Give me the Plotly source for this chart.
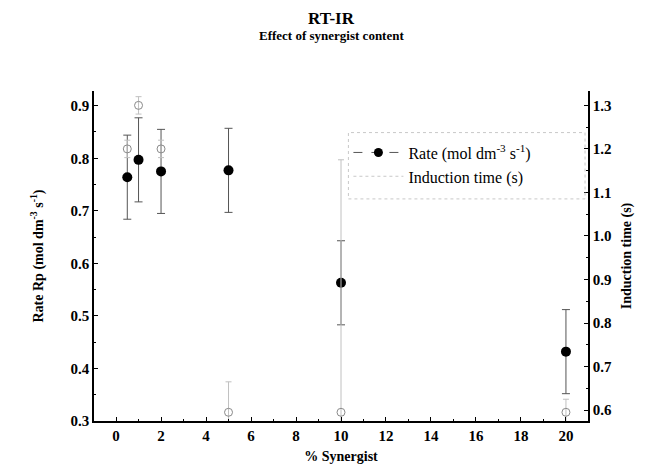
import plotly.graph_objects as go

synergist = [0.5, 1, 2, 5, 10, 20]
rate = [0.764, 0.797, 0.775, 0.777, 0.563, 0.432]
rate_err = [0.08, 0.08, 0.08, 0.08, 0.08, 0.08]
induction = [1.20, 1.30, 1.20, 0.595, 0.595, 0.595]
induction_err = [0.02, 0.02, 0.02, 0.07, 0.58, 0.03]

FONT = "Liberation Serif, Times New Roman, serif"

fig = go.Figure()

fig.add_trace(go.Scatter(
    x=synergist, y=induction, yaxis="y2", mode="markers",
    marker=dict(symbol="circle-open", size=8, color="#8a8a8a", line=dict(width=1)),
    error_y=dict(type="data", array=induction_err, visible=True, color="#c0c0c0",
                 thickness=1, width=3),
    showlegend=False))

fig.add_trace(go.Scatter(
    x=synergist, y=rate, mode="markers",
    marker=dict(symbol="circle", size=10, color="black"),
    error_y=dict(type="data", array=rate_err, visible=True, color="#555555",
                 thickness=1, width=4),
    showlegend=False))

# legend entries
fig.add_trace(go.Scatter(
    x=[None], y=[None], mode="lines+markers", name="Rate (mol dm<sup>-3</sup> s<sup>-1</sup>)",
    marker=dict(symbol="circle", size=9, color="black"),
    line=dict(color="#555555", width=1, dash="dash")))
fig.add_trace(go.Scatter(
    x=[None], y=[None], mode="lines", name="Induction time (s)",
    line=dict(color="#c8c8c8", width=1, dash="dot")))

TICKFONT = dict(family=FONT, size=15, color="black", weight="bold")

axis_common = dict(
    showgrid=False, zeroline=False, showline=True, linecolor="black", linewidth=1.5,
    ticks="inside", ticklen=4, tickcolor="black", mirror=False,
    tickfont=TICKFONT,
)

fig.update_layout(
    width=646, height=466,
    paper_bgcolor="white", plot_bgcolor="white",
    margin=dict(l=86, r=66, t=83, b=50),
    font=dict(family=FONT, color="black"),
    xaxis=dict(
        range=[-0.98, 20.98], tickmode="array", tickvals=list(range(0, 21, 2)),
        ticktext=[str(v) for v in range(0, 21, 2)],
        title=dict(text="<b>% Synergist</b>", font=dict(family=FONT, size=14), standoff=8),
        minor=dict(ticks="inside", ticklen=2, dtick=1, tickcolor="black"),
        **axis_common),
    yaxis=dict(
        range=[0.3, 0.928], tickmode="array", tickvals=[0.3, 0.4, 0.5, 0.6, 0.7, 0.8, 0.9],
        ticktext=["0.3", "0.4", "0.5", "0.6", "0.7", "0.8", "0.9"],
        title=dict(text="<b>Rate Rp (mol dm<sup>-3</sup> s<sup>-1</sup>)</b>",
                   font=dict(family=FONT, size=14), standoff=24),
        minor=dict(ticks="inside", ticklen=2, dtick=0.05, tickcolor="black"),
        **axis_common),
    yaxis2=dict(
        range=[0.575, 1.333], overlaying="y", side="right", anchor="x",
        tickmode="array", tickvals=[0.6, 0.7, 0.8, 0.9, 1.0, 1.1, 1.2, 1.3],
        ticktext=["0.6", "0.7", "0.8", "0.9", "1.0", "1.1", "1.2", "1.3"],
        title=dict(text="<b>Induction time (s)</b>", font=dict(family=FONT, size=14), standoff=10),
        minor=dict(ticks="inside", ticklen=2, dtick=0.05, tickcolor="black"),
        **axis_common),
    legend=dict(
        x=0.515, y=0.865, xanchor="left", yanchor="top",
        bgcolor="rgba(255,255,255,0)", borderwidth=0,
        font=dict(family=FONT, size=16, color="black"), itemwidth=50,
        tracegroupgap=0),
    shapes=[dict(type="rect", xref="paper", yref="paper", x0=0.515, x1=0.994,
                 y0=0.673, y1=0.874, line=dict(color="#c8c8c8", width=1, dash="dot"))],
    annotations=[
        dict(text="<b>RT-IR</b>", xref="paper", yref="paper", x=0.48, y=1.219,
             xanchor="center", yanchor="middle", showarrow=False,
             font=dict(family=FONT, size=17, color="black")),
        dict(text="<b>Effect of synergist content</b>", xref="paper", yref="paper",
             x=0.48, y=1.168, xanchor="center", yanchor="middle", showarrow=False,
             font=dict(family=FONT, size=13, color="black")),
    ],
)

fig.write_html("out.html")
